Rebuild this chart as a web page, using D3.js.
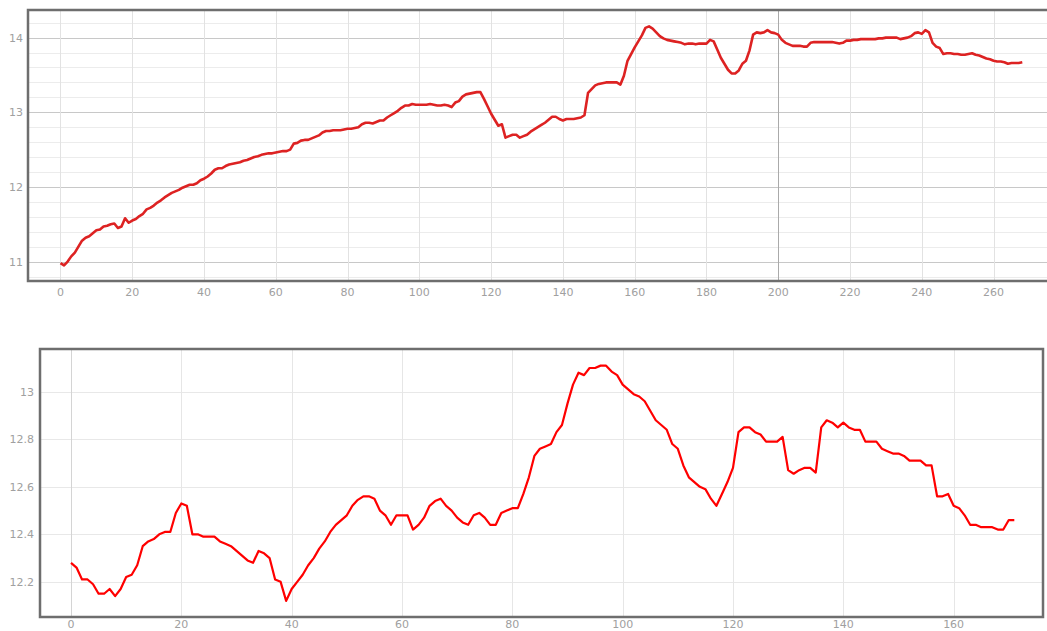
<!DOCTYPE html>
<html lang="en">
<head>
    <meta charset="UTF-8">
    <title>Two line charts</title>
    <script src="https://d3js.org/d3.v7.min.js"></script>
    <style>
        body { margin: 0; background: #fff; overflow: hidden; }
        .tick-label {
            font: 11px "DejaVu Sans", sans-serif;
            fill: #a0a0a0;
        }
    </style>
</head>
<body>
    <svg width="1047" height="631"></svg>
    <script>
        // values, one per x step
        const topValues = [
            10.98, 10.95, 11.0, 11.07, 11.12, 11.2, 11.28, 11.32, 11.34, 11.38,
            11.42, 11.43, 11.47, 11.48, 11.5, 11.51, 11.45, 11.47, 11.58, 11.52,
            11.55, 11.57, 11.61, 11.64, 11.7, 11.72, 11.75, 11.79, 11.82, 11.86,
            11.89, 11.92, 11.94, 11.96, 11.99, 12.01, 12.03, 12.03, 12.05, 12.09,
            12.11, 12.14, 12.18, 12.23, 12.25, 12.25, 12.28, 12.3, 12.31, 12.32,
            12.33, 12.35, 12.36, 12.38, 12.4, 12.41, 12.43, 12.44, 12.45, 12.45,
            12.46, 12.47, 12.48, 12.48, 12.5, 12.58, 12.59, 12.62, 12.63, 12.63,
            12.65, 12.67, 12.69, 12.73, 12.75, 12.75, 12.76, 12.76, 12.76, 12.77,
            12.78, 12.78, 12.79, 12.8, 12.84, 12.86, 12.86, 12.85, 12.87, 12.89,
            12.89, 12.93, 12.96, 12.99, 13.02, 13.06, 13.09, 13.09, 13.11, 13.1,
            13.1, 13.1, 13.1, 13.11, 13.1, 13.09, 13.09, 13.1, 13.09, 13.07,
            13.13, 13.15, 13.21, 13.24, 13.25, 13.26, 13.27, 13.27, 13.18, 13.08,
            12.98, 12.9, 12.82, 12.84, 12.66, 12.68, 12.7, 12.7, 12.66, 12.68,
            12.7, 12.74, 12.77, 12.8, 12.83, 12.86, 12.9, 12.94, 12.94, 12.91,
            12.89, 12.91, 12.91, 12.91, 12.92, 12.93, 12.96, 13.26, 13.31, 13.36,
            13.38, 13.39, 13.4, 13.4, 13.4, 13.4, 13.37, 13.49, 13.69, 13.78,
            13.87, 13.95, 14.03, 14.13, 14.15, 14.12, 14.07, 14.02, 13.99, 13.97,
            13.96, 13.95, 13.94, 13.93, 13.91, 13.92, 13.92, 13.91, 13.92, 13.92,
            13.92, 13.97, 13.95, 13.84, 13.73, 13.65, 13.57, 13.52, 13.52, 13.56,
            13.65, 13.69, 13.83, 14.04, 14.07, 14.06, 14.07, 14.1, 14.07, 14.06,
            14.04, 13.97, 13.93, 13.91, 13.89, 13.89, 13.89, 13.88, 13.88, 13.93,
            13.94, 13.94, 13.94, 13.94, 13.94, 13.94, 13.93, 13.92, 13.93, 13.96,
            13.96, 13.97, 13.97, 13.98, 13.98, 13.98, 13.98, 13.98, 13.99, 13.99,
            14.0, 14.0, 14.0, 14.0, 13.98, 13.99, 14.0, 14.02, 14.06, 14.07,
            14.05, 14.1, 14.07, 13.93, 13.88, 13.86, 13.78, 13.79, 13.79, 13.78,
            13.78, 13.77, 13.77, 13.78, 13.79, 13.77, 13.76, 13.74, 13.72, 13.71,
            13.69, 13.68, 13.68, 13.67, 13.65, 13.66, 13.66, 13.66, 13.67
        ];

        const bottomValues = [
            12.28, 12.26, 12.21, 12.21, 12.19, 12.15, 12.15, 12.17, 12.14, 12.17,
            12.22, 12.23, 12.27, 12.35, 12.37, 12.38, 12.40, 12.41, 12.41, 12.49,
            12.53, 12.52, 12.40, 12.40, 12.39, 12.39, 12.39, 12.37, 12.36, 12.35,
            12.33, 12.31, 12.29, 12.28, 12.33, 12.32, 12.30, 12.21, 12.2, 12.12,
            12.17, 12.2, 12.23, 12.27, 12.3, 12.34, 12.37, 12.41, 12.44, 12.46,
            12.48, 12.52, 12.545, 12.56, 12.56, 12.55, 12.5, 12.48, 12.44, 12.48,
            12.48, 12.48, 12.42, 12.44, 12.47, 12.52, 12.54, 12.55, 12.52, 12.5,
            12.47, 12.45, 12.44, 12.48, 12.49, 12.47, 12.44, 12.44, 12.49, 12.5,
            12.51, 12.51, 12.57, 12.64, 12.73, 12.76, 12.77, 12.78, 12.83, 12.86,
            12.95, 13.03, 13.08, 13.07, 13.1, 13.1, 13.11, 13.11, 13.085, 13.07,
            13.03, 13.01, 12.99, 12.98, 12.96, 12.92, 12.88, 12.86, 12.84, 12.78,
            12.76, 12.69, 12.64, 12.62, 12.6, 12.59, 12.55, 12.52, 12.57, 12.62,
            12.68, 12.83, 12.85, 12.85, 12.83, 12.82, 12.79, 12.79, 12.79, 12.81,
            12.67, 12.655, 12.67, 12.68, 12.68, 12.66, 12.85, 12.88, 12.87, 12.85,
            12.87, 12.85, 12.84, 12.84, 12.79, 12.79, 12.79, 12.76, 12.75, 12.74,
            12.74, 12.73, 12.71, 12.71, 12.71, 12.69, 12.69, 12.56, 12.56, 12.57,
            12.52, 12.51, 12.48, 12.44, 12.44, 12.43, 12.43, 12.43, 12.42, 12.42,
            12.46, 12.46
        ];

        const topXTicks = [0, 20, 40, 60, 80, 100, 120, 140, 160, 180, 200, 220, 240, 260];
        const topYTicks = [11, 12, 13, 14];
        const bottomXTicks = [0, 20, 40, 60, 80, 100, 120, 140, 160];
        const bottomYTicks = [12.2, 12.4, 12.6, 12.8, 13];

        const svg = d3.select("svg");

        function drawPanel(opts) {
            const g = svg.append("g");
            const x = d3.scaleLinear().domain(opts.xDomain).range([opts.left, opts.right]);
            const y = d3.scaleLinear().domain(opts.yDomain).range([opts.bottom, opts.top]);

            // horizontal grid
            g.selectAll(".hgrid")
                .data(opts.hGrid)
                .enter().append("line")
                .attr("x1", opts.left).attr("x2", opts.right)
                .attr("y1", d => Math.round(y(d)) + 0.5)
                .attr("y2", d => Math.round(y(d)) + 0.5)
                .attr("stroke", d => opts.hColor(d))
                .attr("stroke-width", 1);

            // vertical grid
            g.selectAll(".vgrid")
                .data(opts.xTicks)
                .enter().append("line")
                .attr("y1", opts.top).attr("y2", opts.bottom)
                .attr("x1", d => Math.round(x(d)) + 0.5)
                .attr("x2", d => Math.round(x(d)) + 0.5)
                .attr("stroke", d => opts.vColor(d))
                .attr("stroke-width", 1);

            const line = d3.line()
                .x((d, i) => x(i))
                .y(d => y(d));

            g.append("path")
                .datum(opts.values)
                .attr("fill", "none")
                .attr("stroke", opts.lineColor)
                .attr("stroke-width", opts.lineWidth)
                .attr("stroke-linejoin", "round")
                .attr("d", line);

            // frame
            g.append("rect")
                .attr("x", opts.left).attr("y", opts.top)
                .attr("width", opts.right - opts.left)
                .attr("height", opts.bottom - opts.top)
                .attr("fill", "none")
                .attr("stroke", "#6e6e6e")
                .attr("stroke-width", 2.5);

            // tick labels
            g.selectAll(".xl")
                .data(opts.xTicks)
                .enter().append("text")
                .attr("class", "tick-label")
                .attr("x", d => x(d))
                .attr("y", opts.xLabelY)
                .attr("text-anchor", "middle")
                .text(d => d);

            g.selectAll(".yl")
                .data(opts.yTicks)
                .enter().append("text")
                .attr("class", "tick-label")
                .attr("x", opts.yLabelX)
                .attr("y", d => y(d))
                .attr("dy", "0.36em")
                .attr("text-anchor", "end")
                .text(d => d);
        }

        const topMinor = d3.range(54, 72).map(k => +(k * 0.2).toFixed(1));
        drawPanel({
            values: topValues,
            xDomain: [-9.05, 276], yDomain: [10.74, 14.37],
            left: 28, right: 1051, top: 10, bottom: 281,
            hGrid: topMinor,
            hColor: d => Number.isInteger(d) ? "#c8c8c8" : "#ececec",
            xTicks: topXTicks,
            vColor: d => d === 200 ? "#aaaaaa" : "#e2e2e2",
            yTicks: topYTicks,
            lineColor: "#dd2222", lineWidth: 2.6,
            xLabelY: 296, yLabelX: 23
        });

        drawPanel({
            values: bottomValues,
            xDomain: [-5.62, 176.2], yDomain: [12.052, 13.18],
            left: 40, right: 1043, top: 349, bottom: 617,
            hGrid: bottomYTicks,
            hColor: () => "#e8e8e8",
            xTicks: bottomXTicks,
            vColor: d => d === 0 ? "#d4d4d4" : "#e6e6e6",
            yTicks: bottomYTicks,
            lineColor: "#ff0000", lineWidth: 2.2,
            xLabelY: 628, yLabelX: 34
        });
    </script>
</body>
</html>
